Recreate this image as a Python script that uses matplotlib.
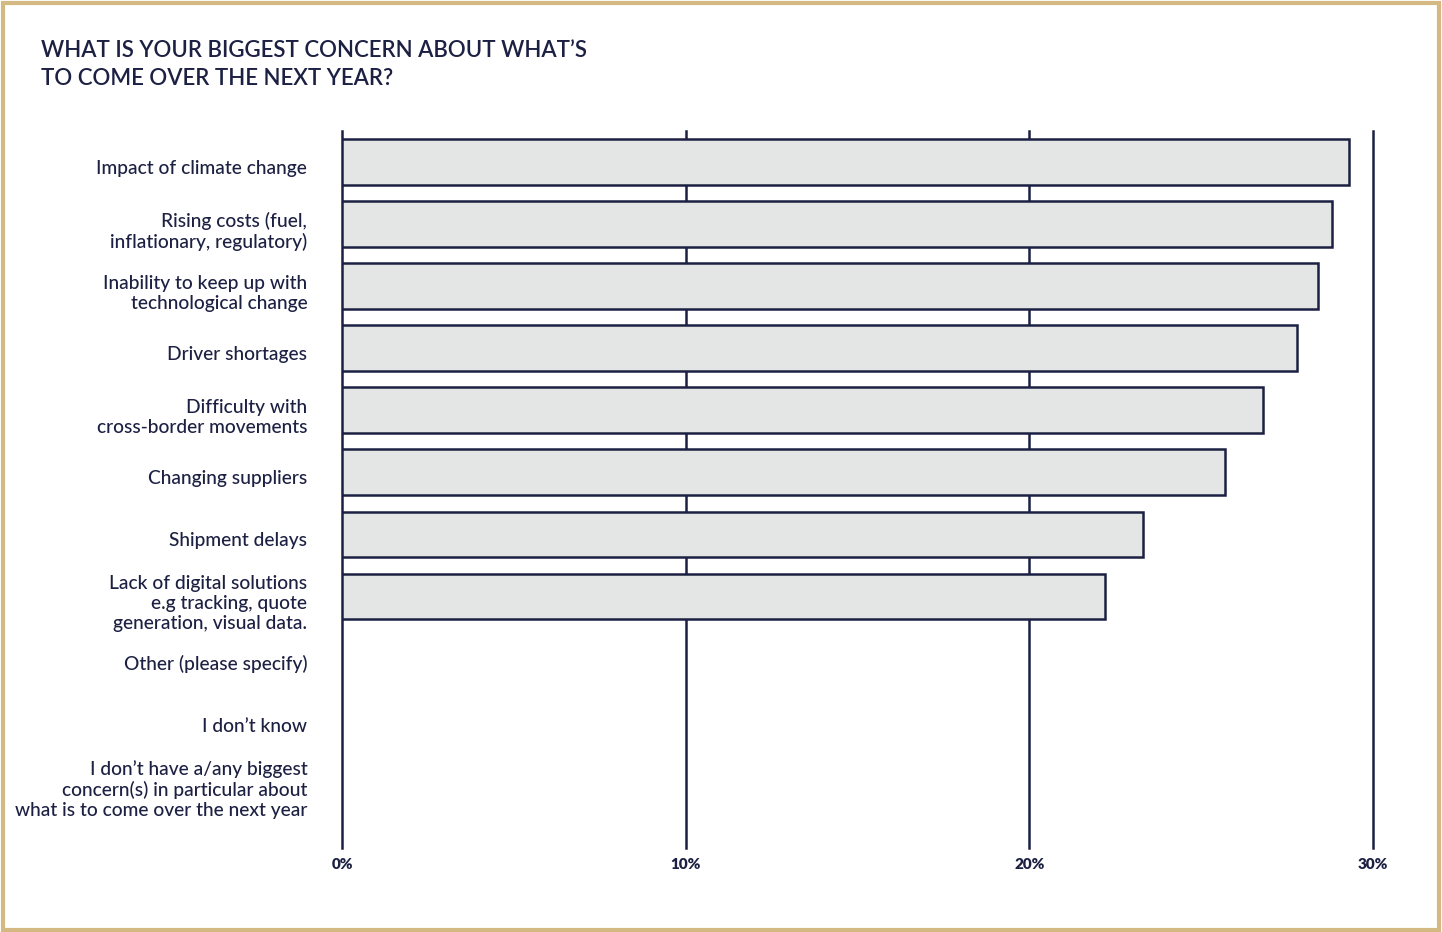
import matplotlib.pyplot as plt
from matplotlib.patches import Rectangle
from matplotlib.transforms import ScaledTranslation

NAVY = '#1c2042'
BAR = '#e4e6e5'
GOLD = '#d5b983'

categories = [
    'Impact of climate change',
    'Rising costs (fuel,\ninflationary, regulatory)',
    'Inability to keep up with\ntechnological change',
    'Driver shortages',
    'Difficulty with\ncross-border movements',
    'Changing suppliers',
    'Shipment delays',
    'Lack of digital solutions\ne.g tracking, quote\ngeneration, visual data.',
    'Other (please specify)',
    'I don\u2019t know',
    'I don\u2019t have a/any biggest\nconcern(s) in particular about\nwhat is to come over the next year',
]
values = [29.3, 28.8, 28.4, 27.8, 26.8, 25.7, 23.3, 22.2, 0, 0, 0]
ticks = [0, 10, 20, 30]
tick_labels = ['0%', '10%', '20%', '30%']
title = 'WHAT IS YOUR BIGGEST CONCERN ABOUT WHAT\u2019S\nTO COME OVER THE NEXT YEAR?'

W, H = 1442, 932
fig = plt.figure(figsize=(W / 100, H / 100), dpi=100)
fig.patch.set_facecolor('white')

# gold frame
fig.patches.append(Rectangle((3 / W, 2 / H), 1436 / W, 927 / H, transform=fig.transFigure,
                             fill=False, edgecolor=GOLD, linewidth=3))

ax = fig.add_axes([342 / W, 1 - 848 / H, (1373 - 342) / W, (848 - 131) / H])
pos = list(range(len(categories)))
for t in ticks:
    ax.axvline(t, color=NAVY, linewidth=1.8, zorder=1, clip_on=False)
bars = [(p, v) for p, v in zip(pos, values) if v > 0]
ax.barh([b[0] for b in bars], [b[1] for b in bars], height=0.73, color=BAR,
        edgecolor=NAVY, linewidth=1.8, zorder=2)
ax.set_xlim(0, 30)
ax.set_ylim(11.06, -0.5)
for s in ax.spines.values():
    s.set_visible(False)
ax.set_yticks(pos)
ax.set_yticklabels(categories, fontsize=13.8, color=NAVY, family='Lato', fontweight='medium',
                   linespacing=1.2, ha='right')
ax.set_xticks(ticks)
ax.set_xticklabels(tick_labels, fontsize=11, color=NAVY, family='Lato', fontweight='heavy')
ax.tick_params(axis='both', length=0)
ax.tick_params(axis='y', pad=25)
ax.tick_params(axis='x', pad=7)

shift = ScaledTranslation(0, -0.045, fig.dpi_scale_trans)
for lab in ax.get_yticklabels():
    lab.set_transform(lab.get_transform() + shift)

fig.text(41 / W, 1 - 40 / H, title, fontsize=16, color=NAVY, family='Lato',
         fontweight='semibold', va='top', ha='left', linespacing=1.4)

fig.savefig('out.png', dpi=100, facecolor='white')
